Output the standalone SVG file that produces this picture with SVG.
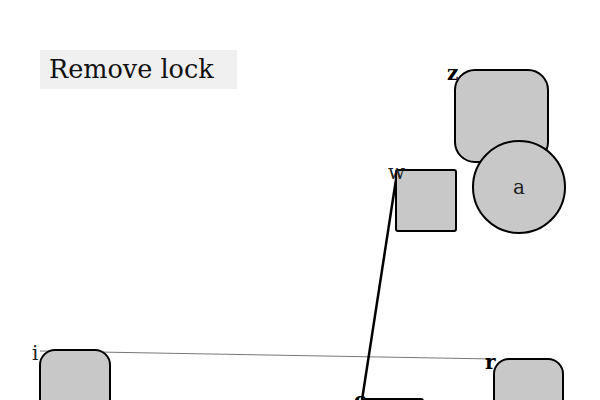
<svg xmlns="http://www.w3.org/2000/svg" width="600" height="400" viewBox="0 0 600 400">
<style>
.n{fill:#c8c8c8;stroke:#000;stroke-width:2}
.lbl{font-family:"DejaVu Serif","Liberation Serif",serif;font-size:20px;fill:#222}
.b{font-weight:bold;fill:#000}
</style>
<rect width="600" height="400" fill="#fff"/>
<g id="title">
<rect x="40" y="50" width="197" height="39" fill="#f0f0f0"/>
<text x="49" y="78" style="font-family:'DejaVu Serif','Liberation Serif',serif;font-size:25.5px" fill="#111">Remove lock</text>
</g>
<g id="connectors">
<line x1="40" y1="351" x2="494" y2="359" stroke="#777" stroke-width="1"/>
<line x1="397" y1="173" x2="362" y2="400" stroke="#000" stroke-width="2.5"/>
</g>
<g id="node-z">
<rect class="n" x="455" y="70" width="93" height="92" rx="20"/>
<text class="lbl b" x="447" y="80">z</text>
</g>
<g id="node-a">
<circle class="n" cx="519" cy="187" r="46"/>
<text class="lbl" x="519" y="194" text-anchor="middle">a</text>
</g>
<g id="node-w">
<rect class="n" x="396" y="170" width="60" height="61" rx="2"/>
<text class="lbl" x="388" y="179">w</text>
</g>
<g id="node-i">
<rect class="n" x="40" y="350" width="70" height="70" rx="15"/>
<text class="lbl" x="32" y="360">i</text>
</g>
<g id="node-r">
<rect class="n" x="494" y="359" width="69" height="60" rx="15"/>
<text class="lbl b" x="485" y="369">r</text>
</g>
<g id="node-c">
<rect class="n" x="363" y="399" width="60" height="40" rx="2"/>
<text class="lbl b" x="354" y="407">c</text>
</g>
</svg>
